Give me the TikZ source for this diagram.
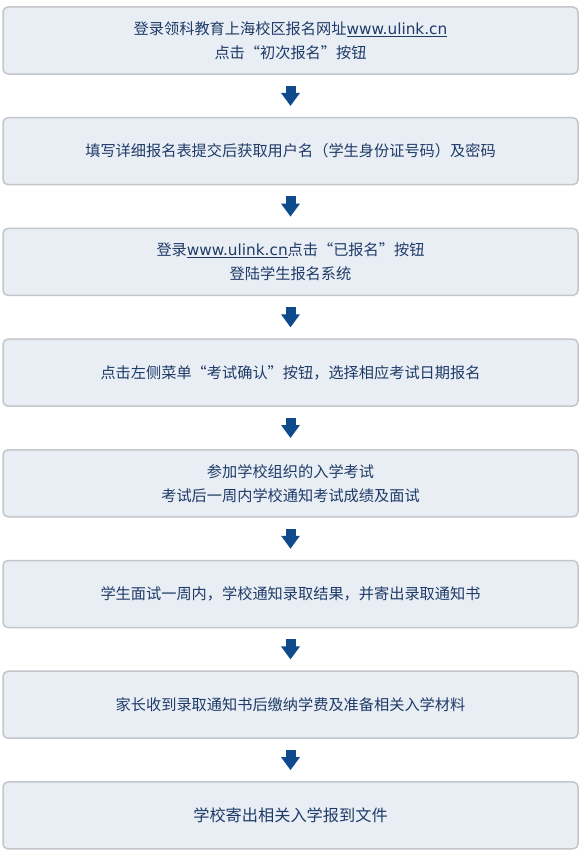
\documentclass[tikz,border=0pt]{standalone}
\usepackage{fontspec}
\setmainfont{Noto Sans CJK SC}
\newfontfamily\cjk{Noto Sans CJK SC}
\newfontfamily\cjkfw[RawFeature=+fwid]{Noto Sans CJK SC}
\newfontfamily\latn{DejaVu Sans}
\usetikzlibrary{arrows.meta,calc}
\definecolor{boxfill}{HTML}{E9EEF4}
\definecolor{boxline}{HTML}{C3C7CC}
\definecolor{txtcol}{HTML}{1E3B68}
\definecolor{arrcol}{HTML}{0F4A8C}
\newcommand\myLq{{\cjkfw “}}
\newcommand\myRq{{\cjkfw ”}}
\newcommand\myUrl{\underline{\latn\fontsize{15.3pt}{24pt}\selectfont www.ulink.cn}}
\begin{document}
\begin{tikzpicture}[x=1pt,y=-1pt,
  stepbox/.style={draw=boxline, line width=1.5pt, fill=boxfill, rounded corners=5pt,
    minimum width=575pt, minimum height=67pt, inner sep=0pt, align=center,
    text=txtcol, font=\cjk\fontsize{15.2pt}{24pt}\selectfont},
  flowarrow/.style={arrcol, line width=10pt, -{Triangle[width=18pt,length=13pt]}}]
\useasboundingbox[fill=white] (0,0) rectangle (581,859);
\node[stepbox] (b1) at (290.5,40.5) {登录领科教育上海校区报名网址\myUrl\\点击\myLq 初次报名\myRq 按钮};
\node[stepbox] (b2) at (290.5,151.2) {填写详细报名表提交后获取用户名（学生身份证号码）及密码};
\node[stepbox] (b3) at (290.5,261.9) {登录\myUrl 点击\myLq 已报名\myRq 按钮\\登陆学生报名系统};
\node[stepbox] (b4) at (290.5,372.6) {点击左侧菜单\myLq 考试确认\myRq 按钮，选择相应考试日期报名};
\node[stepbox] (b5) at (290.5,483.3) {参加学校组织的入学考试\\考试后一周内学校通知考试成绩及面试};
\node[stepbox] (b6) at (290.5,594.0) {学生面试一周内，学校通知录取结果，并寄出录取通知书};
\node[stepbox] (b7) at (290.5,704.7) {家长收到录取通知书后缴纳学费及准备相关入学材料};
\node[stepbox, font=\cjk\fontsize{16.2pt}{24pt}\selectfont] (b8) at (290.5,815.4) {学校寄出相关入学报到文件};
\foreach \a/\b in {b1/b2,b2/b3,b3/b4,b4/b5,b5/b6,b6/b7,b7/b8}
  \draw[flowarrow] ($(\a.south)+(0,11)$) -- ($(\b.north)+(0,-11)$);
\end{tikzpicture}
\end{document}
